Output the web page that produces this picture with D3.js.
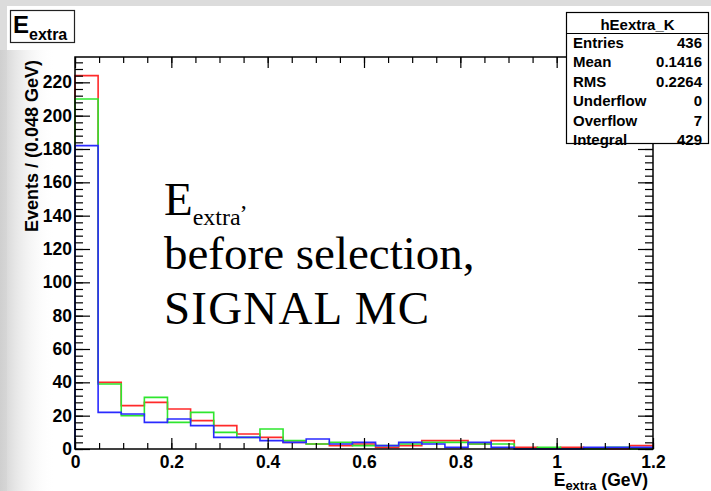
<!DOCTYPE html>
<html>
<head>
<meta charset="utf-8">
<script src="https://cdn.jsdelivr.net/npm/d3@7"></script>
<style>
body { margin: 0; background: #fff; }
svg { display: block; }
</style>
</head>
<body>
<script>
// histogram binning: 25 bins of 0.048 GeV from 0 to 1.2
const binLow = 0
const binWidth = 0.048
const nBins = 25

// bin contents
const red   = [224, 40, 26, 28, 24, 17, 14, 9, 7, 4, 3, 2, 3, 1, 2, 5, 5, 3, 5, 1, 0, 1, 0, 0, 2]
const green = [210, 39, 20, 31, 16, 22, 10, 7, 12, 5, 3, 4, 2, 2, 3, 4, 4, 3, 3, 0, 1, 0, 0, 1, 0]
const blue  = [182, 22, 21, 16, 18, 14, 7, 7, 5, 4, 6, 3, 4, 2, 4, 3, 1, 4, 1, 0, 0, 0, 1, 1, 1]

const xTicks = [0, 0.2, 0.4, 0.6, 0.8, 1, 1.2]
const yTicks = [0, 20, 40, 60, 80, 100, 120, 140, 160, 180, 200, 220]

const statsTitle = "hEextra_K"
const statsLabels = ["Entries", "Mean", "RMS", "Underflow", "Overflow", "Integral"]
const statsValues = ["436", "0.1416", "0.2264", "0", "7", "429"]

const width = 711, height = 491
const frame = {left: 75, right: 653, top: 57, bottom: 449}
const sans = "'Liberation Sans', Arial, Helvetica, sans-serif"

const x = d3.scaleLinear().domain([binLow, binLow + nBins * binWidth]).range([frame.left, frame.right])
const y = d3.scaleLinear().domain([0, 1.05 * d3.max(red)]).range([frame.bottom, frame.top])

const svg = d3.select("body").append("svg")
    .attr("width", width)
    .attr("height", height)

// slide background: grey edge, white canvas, soft shade on the left
const defs = svg.append("defs")
const grad = defs.append("linearGradient").attr("id", "shade")
grad.append("stop").attr("offset", "0%").attr("stop-color", "#cfcfcf")
grad.append("stop").attr("offset", "100%").attr("stop-color", "#fff").attr("stop-opacity", 0)

svg.append("rect").attr("width", width).attr("height", height).attr("fill", "#dcdcdc")
svg.append("rect").attr("x", 7).attr("y", 6).attr("width", width - 7).attr("height", height - 6).attr("fill", "#fff")
svg.append("rect").attr("x", 0).attr("y", 50).attr("width", 55).attr("height", height - 50).attr("fill", "url(#shade)")

// histograms as step outlines
function stepPoints(vals) {
  const pts = [[binLow, 0]]
  vals.forEach((v, i) => {
    pts.push([binLow + i * binWidth, v])
    pts.push([binLow + (i + 1) * binWidth, v])
  })
  pts.push([binLow + nBins * binWidth, 0])
  return pts
}
const line = d3.line().x(d => x(d[0])).y(d => y(d[1]))

const hists = [
  {vals: red, color: "#ff2a2a"},
  {vals: green, color: "#2ee62e"},
  {vals: blue, color: "#2a2aff"}
]
svg.append("g")
    .attr("fill", "none")
    .attr("stroke-width", 1.6)
  .selectAll("path")
  .data(hists)
  .join("path")
    .attr("stroke", d => d.color)
    .attr("d", d => line(stepPoints(d.vals)))

// axes, ticks pointing into the frame
const xMinor = d3.range(0, 24.5).map(i => i * 0.05)
const yMinor = d3.range(0, 59).map(i => i * 4).filter(v => v <= y.domain()[1])

function styleAxis(g) {
  g.selectAll("path.domain").remove()
  g.selectAll("line").attr("stroke", "#000").attr("stroke-width", 1.2)
  g.selectAll("text")
    .attr("font-family", sans)
    .attr("font-weight", "bold")
    .attr("font-size", 17.5)
    .attr("fill", "#000")
}

svg.append("g").attr("transform", `translate(0,${frame.bottom})`)
    .call(d3.axisBottom(x).tickValues(xMinor).tickSize(-6).tickFormat(""))
    .call(styleAxis)
svg.append("g").attr("transform", `translate(0,${frame.bottom})`)
    .call(d3.axisBottom(x).tickValues(xTicks).tickSize(-11).tickPadding(7).tickFormat(d3.format("")))
    .call(styleAxis)
svg.append("g").attr("transform", `translate(0,${frame.top})`)
    .call(d3.axisTop(x).tickValues(xMinor).tickSize(-6).tickFormat(""))
    .call(styleAxis)
svg.append("g").attr("transform", `translate(0,${frame.top})`)
    .call(d3.axisTop(x).tickValues(xTicks).tickSize(-11).tickFormat(""))
    .call(styleAxis)

svg.append("g").attr("transform", `translate(${frame.left},0)`)
    .call(d3.axisLeft(y).tickValues(yMinor).tickSize(-8).tickFormat(""))
    .call(styleAxis)
svg.append("g").attr("transform", `translate(${frame.left},0)`)
    .call(d3.axisLeft(y).tickValues(yTicks).tickSize(-15).tickPadding(3))
    .call(styleAxis)
svg.append("g").attr("transform", `translate(${frame.right},0)`)
    .call(d3.axisRight(y).tickValues(yMinor).tickSize(-8).tickFormat(""))
    .call(styleAxis)
svg.append("g").attr("transform", `translate(${frame.right},0)`)
    .call(d3.axisRight(y).tickValues(yTicks).tickSize(-15).tickFormat(""))
    .call(styleAxis)

svg.append("rect")
    .attr("x", frame.left).attr("y", frame.top)
    .attr("width", frame.right - frame.left).attr("height", frame.bottom - frame.top)
    .attr("fill", "none").attr("stroke", "#000").attr("stroke-width", 1.5)

// axis titles
svg.append("text")
    .attr("transform", `translate(38,${frame.top + 3}) rotate(-90)`)
    .attr("text-anchor", "end")
    .attr("font-family", sans).attr("font-weight", "bold").attr("font-size", 18)
    .text("Events / (0.048 GeV)")

const xt = svg.append("text")
    .attr("x", 648).attr("y", 486)
    .attr("text-anchor", "end")
    .attr("font-family", sans).attr("font-weight", "bold").attr("font-size", 17.5)
xt.append("tspan").text("E")
xt.append("tspan").attr("font-size", 13).attr("dy", 4).text("extra")
xt.append("tspan").attr("dy", -4).text(" (GeV)")

// title box
svg.append("rect").attr("x", 10.5).attr("y", 10.5).attr("width", 64).attr("height", 32)
    .attr("fill", "#fff").attr("stroke", "#222").attr("stroke-width", 1.2)
const tt = svg.append("text").attr("x", 13).attr("y", 33)
    .attr("font-family", sans).attr("font-weight", "bold").attr("font-size", 24)
tt.append("tspan").text("E")
tt.append("tspan").attr("font-size", 16).attr("dy", 7).text("extra")

// stats box
const sb = {x: 566.5, y: 12.5, w: 142, h: 131}
svg.append("rect").attr("x", sb.x).attr("y", sb.y).attr("width", sb.w).attr("height", sb.h)
    .attr("fill", "#fff").attr("stroke", "#000").attr("stroke-width", 1.2)
svg.append("line").attr("x1", sb.x).attr("x2", sb.x + sb.w).attr("y1", 33.5).attr("y2", 33.5)
    .attr("stroke", "#000").attr("stroke-width", 1.2)
svg.append("text").attr("x", sb.x + sb.w / 2).attr("y", 30)
    .attr("text-anchor", "middle")
    .attr("font-family", sans).attr("font-weight", "bold").attr("font-size", 15)
    .text(statsTitle)
const rows = svg.append("g").attr("font-family", sans).attr("font-weight", "bold").attr("font-size", 15)
rows.selectAll("text.lab").data(statsLabels).join("text").attr("class", "lab")
    .attr("x", 573).attr("y", (d, i) => 47.5 + i * 19.5).text(d => d)
rows.selectAll("text.val").data(statsValues).join("text").attr("class", "val")
    .attr("x", 702).attr("y", (d, i) => 47.5 + i * 19.5).attr("text-anchor", "end").text(d => d)

// overlay note
const note = svg.append("g")
    .attr("font-family", "'Liberation Serif', 'Times New Roman', serif")
    .attr("font-size", 47)
    .attr("fill", "#000")
const n1 = note.append("text").attr("x", 164).attr("y", 215)
n1.append("tspan").text("E")
n1.append("tspan").attr("font-size", 24).attr("dy", 10).text("extra")
n1.append("tspan").attr("font-size", 24).attr("dy", -17).text(",")
note.append("text").attr("x", 164).attr("y", 269).text("before selection,")
note.append("text").attr("x", 164).attr("y", 324).attr("letter-spacing", 1.2).text("SIGNAL MC")
</script>
</body>
</html>
